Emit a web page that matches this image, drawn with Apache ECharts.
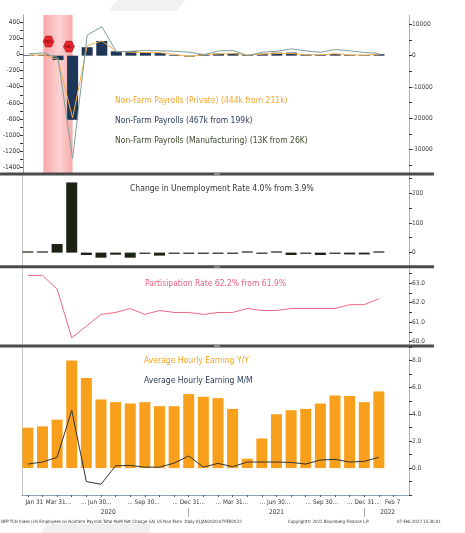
<!DOCTYPE html>
<html lang="en">
<head>
<meta charset="UTF-8">
<title>Non-Farm Payrolls</title>
<style>
	html, body { margin: 0; padding: 0; background: #fff; }
	#chart { width: 465px; height: 533px; }
</style>
</head>
<body>
<div id="chart"></div>
<script src="https://cdn.jsdelivr.net/npm/echarts@6/dist/echarts.min.js"></script>
<script>
// monthly, Jan 2020 .. Jan 2022
var months = ['2020-01','2020-02','2020-03','2020-04','2020-05','2020-06','2020-07','2020-08','2020-09','2020-10','2020-11','2020-12',
	'2021-01','2021-02','2021-03','2021-04','2021-05','2021-06','2021-07','2021-08','2021-09','2021-10','2021-11','2021-12','2022-01'];

// payrolls, thousands
var nfpTotal = [214, 251, -1400, -20500, 2700, 4700, 1400, 1500, 950, 850, 250, -300,
	550, 650, 800, 250, 600, 950, 1000, 400, 300, 550, 250, 199, 467];
var nfpPrivate = [200, 240, -1300, -19900, 3200, 4700, 1400, 1100, 1000, 950, 400, -200,
	300, 550, 700, 220, 500, 700, 700, 250, 350, 600, 250, 211, 444];
var nfpManufacturing = [10, 20, -40, -1290, 240, 345, 35, 40, 50, 45, 40, 28,
	-3, 45, 49, -12, 28, 40, 70, 45, 28, 62, 45, 26, 13];

var unemploymentChange = [0.4, 0.4, 29, 236, -8, -17, -7, -17, -4, -10, -2, -1,
	-2, -2, -2, 0.4, -2, 1, -8, -3, -8, -1, -6, -6, 1];

var participationRate = [63.4, 63.4, 62.7, 60.2, 60.8, 61.4, 61.5, 61.7, 61.4, 61.6, 61.5, 61.5,
	61.4, 61.5, 61.5, 61.7, 61.6, 61.6, 61.7, 61.7, 61.7, 61.7, 61.9, 61.9, 62.2];

var earningsYoY = [3.0, 3.1, 3.6, 8.0, 6.7, 5.1, 4.9, 4.8, 4.9, 4.6, 4.6, 5.5,
	5.3, 5.2, 4.4, 0.7, 2.2, 4.0, 4.3, 4.4, 4.8, 5.4, 5.35, 4.9, 5.7];
var earningsMoM = [0.3, 0.45, 0.8, 4.3, -1.0, -1.2, 0.17, 0.2, 0.07, 0.07, 0.37, 0.9,
	0.07, 0.35, 0.1, 0.45, 0.45, 0.45, 0.42, 0.3, 0.6, 0.65, 0.45, 0.5, 0.8];

var recessionSpan = [1, 3];
var recessionMarks = [[1.35, 4500], [2.75, 2900]];

var dateTickPos = [0.44, 2.09, 4.67, 7.91, 11.0, 13.95, 16.9, 20.1, 22.95, 24.94];
var dateTickLabels = ['Jan 31', 'Mar 31...', '... Jun 30...', '... Sep 30...', '... Dec 31...',
	'... Mar 31...', '... Jun 30...', '... Sep 30...', '... Dec 31...', 'Feb 7'];
var yearPos = [5.5, 17.0, 24.6];
var yearLabels = ['2020', '2021', '2022'];
var yearBreaks = [11, 23];

var NARROW = '"Liberation Sans Narrow", "DejaVu Sans Condensed", "Arial Narrow", sans-serif';

function pairs(arr) {
	return arr.map(function (v, i) { return [i, v]; });
}
function steps(from, to, step) {
	var out = [];
	for (var v = from; v <= to + 1e-9; v += step) out.push(Math.round(v * 100) / 100);
	return out;
}
function lookup(pos, labels, v) {
	for (var i = 0; i < pos.length; i++) {
		if (Math.abs(pos[i] - v) < 1e-6) return labels[i];
	}
	return '';
}
function plain(v) { return String(v); }
function fixed1(v) { return v.toFixed(1); }

var grids = [
	{ left: 22, right: 56, top: 15, height: 158 },
	{ left: 22, right: 56, top: 175, height: 91 },
	{ left: 22, right: 56, top: 268, height: 78 },
	{ left: 22, right: 56, top: 347, height: 148 }
];

function hiddenX(gi) {
	return {
		type: 'value', gridIndex: gi, min: -0.4, max: 26.06,
		axisLine: { show: false, onZero: false }, axisTick: { show: false },
		axisLabel: { show: false }, splitLine: { show: false }
	};
}

function rightY(gi, min, max, ticks, labels, fmt) {
	return {
		type: 'value', gridIndex: gi, position: 'right', min: min, max: max,
		axisLine: { show: true, onZero: false, lineStyle: { color: '#a6b6ca', width: 1 } },
		axisTick: { show: true, customValues: ticks, length: 3, lineStyle: { color: '#333' } },
		axisLabel: { customValues: labels, formatter: fmt || plain, fontSize: 6.5, color: '#444', margin: 3, fontFamily: NARROW },
		splitLine: { show: false }
	};
}

function leftLine(gi) {
	return {
		type: 'value', gridIndex: gi, position: 'left',
		axisLine: { show: true, onZero: false, lineStyle: { color: '#c4c4c4' } },
		axisTick: { show: false }, axisLabel: { show: false }, splitLine: { show: false }
	};
}

function txt(x, y, s, color, size) {
	return {
		type: 'text', z: 100, silent: true,
		style: { text: s, x: x, y: y, fill: color, fontSize: size || 8.5, fontFamily: NARROW, verticalAlign: 'middle' }
	};
}

function separator(y) {
	return [
		{ type: 'rect', z: 90, silent: true, shape: { x: 0, y: y, width: 434, height: 3 }, style: { fill: '#4b4b4b' } },
		{ type: 'rect', z: 91, silent: true, shape: { x: 214, y: y + 0.5, width: 6, height: 2 }, style: { fill: '#8c8c8c' } }
	];
}

var option = {
	animation: false,
	backgroundColor: '#fff',
	grid: grids,
	xAxis: [
		hiddenX(0), hiddenX(1), hiddenX(2),
		{
			type: 'value', gridIndex: 3, min: -0.4, max: 26.06,
			axisLine: { show: true, onZero: false, lineStyle: { color: '#8ea3bd' } },
			axisTick: { show: true, customValues: steps(0, 25, 1), length: 2, lineStyle: { color: '#555' } },
			axisLabel: {
				customValues: dateTickPos, margin: 4, fontSize: 6.3, color: '#333', fontFamily: NARROW,
				formatter: function (v) { return lookup(dateTickPos, dateTickLabels, v); }
			},
			splitLine: { show: false }
		},
		{
			type: 'value', gridIndex: 3, min: -0.4, max: 26.06, position: 'bottom', offset: 13,
			axisLine: { show: false, onZero: false },
			axisTick: { show: true, customValues: yearBreaks, length: 9, lineStyle: { color: '#aaa' } },
			axisLabel: {
				customValues: yearPos, margin: 1, fontSize: 6.5, color: '#333', fontFamily: NARROW,
				formatter: function (v) { return lookup(yearPos, yearLabels, v); }
			},
			splitLine: { show: false }
		}
	],
	yAxis: [
		{
			type: 'value', gridIndex: 0, position: 'left', min: -1470, max: 490,
			axisLine: { show: true, onZero: false, lineStyle: { color: '#8ea3bd' } },
			axisTick: { show: true, customValues: steps(-1400, 400, 100), length: 3, lineStyle: { color: '#333' } },
			axisLabel: { customValues: steps(-1400, 400, 200), formatter: plain, fontSize: 6.5, color: '#333', margin: 3, fontFamily: NARROW },
			splitLine: { show: false }
		},
		rightY(0, -37500, 13000, steps(-35000, 10000, 5000), steps(-30000, 10000, 10000)),
		rightY(1, -45, 261, steps(0, 250, 50), [0, 100, 200]),
		rightY(2, 59.78, 63.78, steps(60, 63.5, 0.5), [60, 61, 62, 63], fixed1),
		rightY(3, -2, 9, steps(-2, 9, 1), [0, 2, 4, 6, 8], fixed1),
		leftLine(1), leftLine(2), leftLine(3)
	],
	series: [
		{
			name: 'Non-Farm Payrolls', type: 'bar', xAxisIndex: 0, yAxisIndex: 1,
			data: pairs(nfpTotal), barWidth: 11, itemStyle: { color: '#1d3658' },
			markArea: {
				silent: true,
				itemStyle: {
					color: new echarts.graphic.LinearGradient(0, 0, 1, 0, [
						{ offset: 0, color: '#f7a5a8' },
						{ offset: 0.55, color: '#fcd2d2' },
						{ offset: 1, color: '#f6aaac' }
					])
				},
				data: [[{ xAxis: recessionSpan[0] }, { xAxis: recessionSpan[1] }]]
			},
			markPoint: {
				silent: true,
				symbol: 'path://M3,0 L9,0 L12,6 L9,12 L3,12 L0,6 Z',
				symbolSize: [11, 11],
				itemStyle: { color: '#e8262c', borderColor: '#8a1010', borderWidth: 0.5 },
				label: { show: true, formatter: 'REC', fontSize: 3.5, color: '#5a0000' },
				data: recessionMarks.map(function (c) { return { coord: c }; })
			}
		},
		{
			name: 'Non-Farm Payrolls (Private)', type: 'line', xAxisIndex: 0, yAxisIndex: 1,
			data: pairs(nfpPrivate), symbol: 'none', lineStyle: { color: '#f6b04a', width: 1 }
		},
		{
			name: 'Non-Farm Payrolls (Manufacturing)', type: 'line', xAxisIndex: 0, yAxisIndex: 0,
			data: pairs(nfpManufacturing), symbol: 'none', lineStyle: { color: '#7f9f98', width: 1 }
		},
		{
			name: 'Change in Unemployment', type: 'bar', xAxisIndex: 1, yAxisIndex: 2,
			data: pairs(unemploymentChange), barWidth: 11, barMinHeight: 1.2, itemStyle: { color: '#1b2314' }
		},
		{
			name: 'Participation Rate', type: 'line', xAxisIndex: 2, yAxisIndex: 3,
			data: pairs(participationRate), symbol: 'none', lineStyle: { color: '#ef6883', width: 1 }
		},
		{
			name: 'Average Hourly Earning Y/Y', type: 'bar', xAxisIndex: 3, yAxisIndex: 4,
			data: pairs(earningsYoY), barWidth: 11, itemStyle: { color: '#f89f1c' }
		},
		{
			name: 'Average Hourly Earning M/M', type: 'line', xAxisIndex: 3, yAxisIndex: 4,
			data: pairs(earningsMoM), symbol: 'none', lineStyle: { color: '#333', width: 1 }
		}
	],
	graphic: [
		// faint watermark shapes
		{ type: 'polygon', z: -10, silent: true, shape: { points: [[118, 0], [186, 0], [176, 11], [108, 11]] }, style: { fill: '#f1f1f1' } },
		{ type: 'polygon', z: -10, silent: true, shape: { points: [[48, 524], [150, 524], [150, 533], [40, 533]] }, style: { fill: '#f0f0f0' } },
		txt(115, 101, 'Non-Farm Payrolls (Private) (444k from 211k)', '#f5a52e'),
		txt(115, 121, 'Non-Farm Payrolls (467k from 199k)', '#2a3d5a'),
		txt(115, 141, 'Non-Farm Payrolls (Manufacturing) (13K from 26K)', '#3c4a2c'),
		txt(130, 189, 'Change in Unemployment Rate 4.0% from 3.9%', '#333'),
		txt(145, 284, 'Partisipation Rate 62.2% from 61.9%', '#ec5f7e'),
		txt(144, 361, 'Average Hourly Earning Y/Y', '#f7a420'),
		txt(144, 381, 'Average Hourly Earning M/M', '#2a3d5a'),
		txt(1, 522, 'NFP TCH Index (US Employees on Nonfarm Payrolls Total MoM Net Change SA) US Non Farm  Daily 01JAN2020-07FEB2022', '#333', 4.4),
		txt(288, 522, 'Copyright\u00a9 2022 Bloomberg Finance L.P.', '#333', 4.4),
		txt(397, 522, '07-Feb-2022 15:30:01', '#333', 4.4)
	].concat(separator(172.5), separator(265.2), separator(344.5))
};

var chart = echarts.init(document.getElementById('chart'));
chart.setOption(option);
</script>
</body>
</html>
